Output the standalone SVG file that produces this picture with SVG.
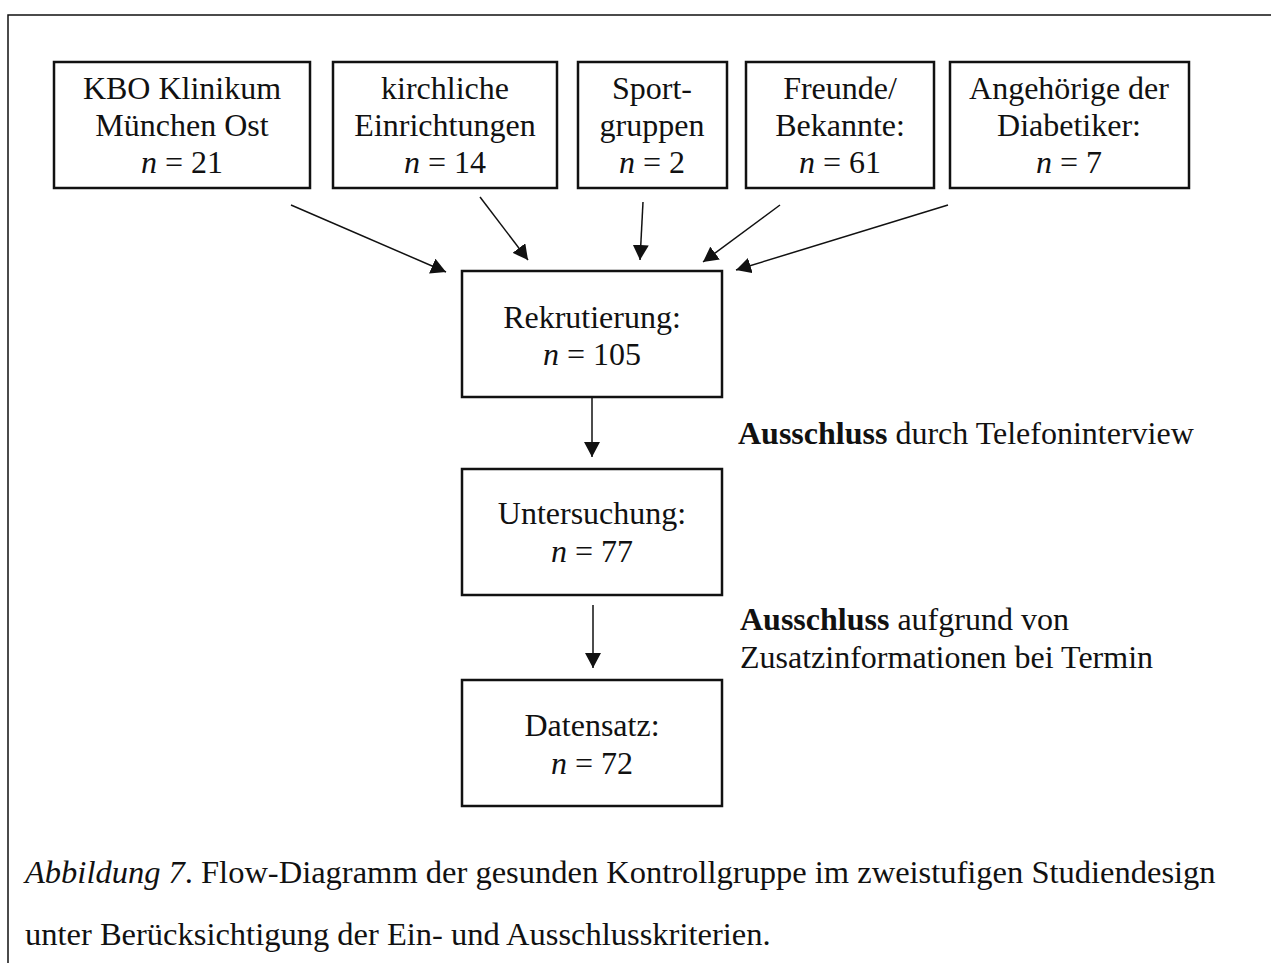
<svg xmlns="http://www.w3.org/2000/svg" width="1271" height="963" viewBox="0 0 1271 963">
<defs>
<style>
.box{fill:#fff;stroke:#111;stroke-width:2.5}
.t{font-family:"Liberation Serif","Times New Roman",serif;font-size:32px;fill:#111;text-anchor:middle}
.l{font-family:"Liberation Serif","Times New Roman",serif;font-size:32px;fill:#111}
.cap{font-family:"Liberation Serif","Times New Roman",serif;font-size:32.5px;fill:#111}
.i{font-style:italic}
.b{font-weight:bold}
.c{stroke:#111;stroke-width:1.5;fill:none;marker-end:url(#ah)}
</style>
<marker id="ah" markerUnits="userSpaceOnUse" markerWidth="16" markerHeight="16" refX="15" refY="8" orient="auto">
<path d="M0,0 L15,8 L0,16 Z" fill="#111"/>
</marker>
</defs>
<rect width="1271" height="963" fill="#fff"/>
<path d="M8,980 V15 H1280" fill="none" stroke="#111" stroke-width="1.5"/>

<g id="n1"><rect class="box" x="54" y="62" width="256" height="126"/>
<text class="t" x="182" y="99">KBO Klinikum</text>
<text class="t" x="182" y="136">München Ost</text>
<text class="t" x="182" y="173"><tspan class="i">n</tspan> = 21</text></g>

<g id="n2"><rect class="box" x="333" y="62" width="224" height="126"/>
<text class="t" x="445" y="99">kirchliche</text>
<text class="t" x="445" y="136">Einrichtungen</text>
<text class="t" x="445" y="173"><tspan class="i">n</tspan> = 14</text></g>

<g id="n3"><rect class="box" x="578" y="62" width="149" height="126"/>
<text class="t" x="652" y="99">Sport-</text>
<text class="t" x="652" y="136">gruppen</text>
<text class="t" x="652" y="173"><tspan class="i">n</tspan> = 2</text></g>

<g id="n4"><rect class="box" x="746" y="62" width="188" height="126"/>
<text class="t" x="840" y="99">Freunde/</text>
<text class="t" x="840" y="136">Bekannte:</text>
<text class="t" x="840" y="173"><tspan class="i">n</tspan> = 61</text></g>

<g id="n5"><rect class="box" x="950" y="62" width="239" height="126"/>
<text class="t" x="1069" y="99">Angehörige der</text>
<text class="t" x="1069" y="136">Diabetiker:</text>
<text class="t" x="1069" y="173"><tspan class="i">n</tspan> = 7</text></g>

<g id="rek"><rect class="box" x="462" y="271" width="260" height="126"/>
<text class="t" x="592" y="328">Rekrutierung:</text>
<text class="t" x="592" y="365"><tspan class="i">n</tspan> = 105</text></g>

<g id="unt"><rect class="box" x="462" y="469" width="260" height="126"/>
<text class="t" x="592" y="524">Untersuchung:</text>
<text class="t" x="592" y="562"><tspan class="i">n</tspan> = 77</text></g>

<g id="dat"><rect class="box" x="462" y="680" width="260" height="126"/>
<text class="t" x="592" y="736">Datensatz:</text>
<text class="t" x="592" y="774"><tspan class="i">n</tspan> = 72</text></g>

<g id="connectors">
<line class="c" x1="291" y1="205" x2="446" y2="272"/>
<line class="c" x1="480" y1="197" x2="528" y2="260"/>
<line class="c" x1="643" y1="202" x2="640" y2="260"/>
<line class="c" x1="780" y1="205" x2="703" y2="262"/>
<line class="c" x1="948" y1="205" x2="736" y2="270"/>
<line class="c" x1="592" y1="397" x2="592" y2="457"/>
<line class="c" x1="593" y1="605" x2="593" y2="668"/>
</g>

<g id="labels">
<text class="l" x="738" y="444"><tspan class="b">Ausschluss</tspan> durch Telefoninterview</text>
<text class="l" x="740" y="630"><tspan class="b">Ausschluss</tspan> aufgrund von</text>
<text class="l" x="740" y="668">Zusatzinformationen bei Termin</text>
</g>

<g id="caption">
<text class="cap" x="25" y="883"><tspan class="i">Abbildung 7</tspan>. Flow-Diagramm der gesunden Kontrollgruppe im zweistufigen Studiendesign</text>
<text class="cap" x="25" y="945">unter Berücksichtigung der Ein- und Ausschlusskriterien.</text>
</g>
</svg>
